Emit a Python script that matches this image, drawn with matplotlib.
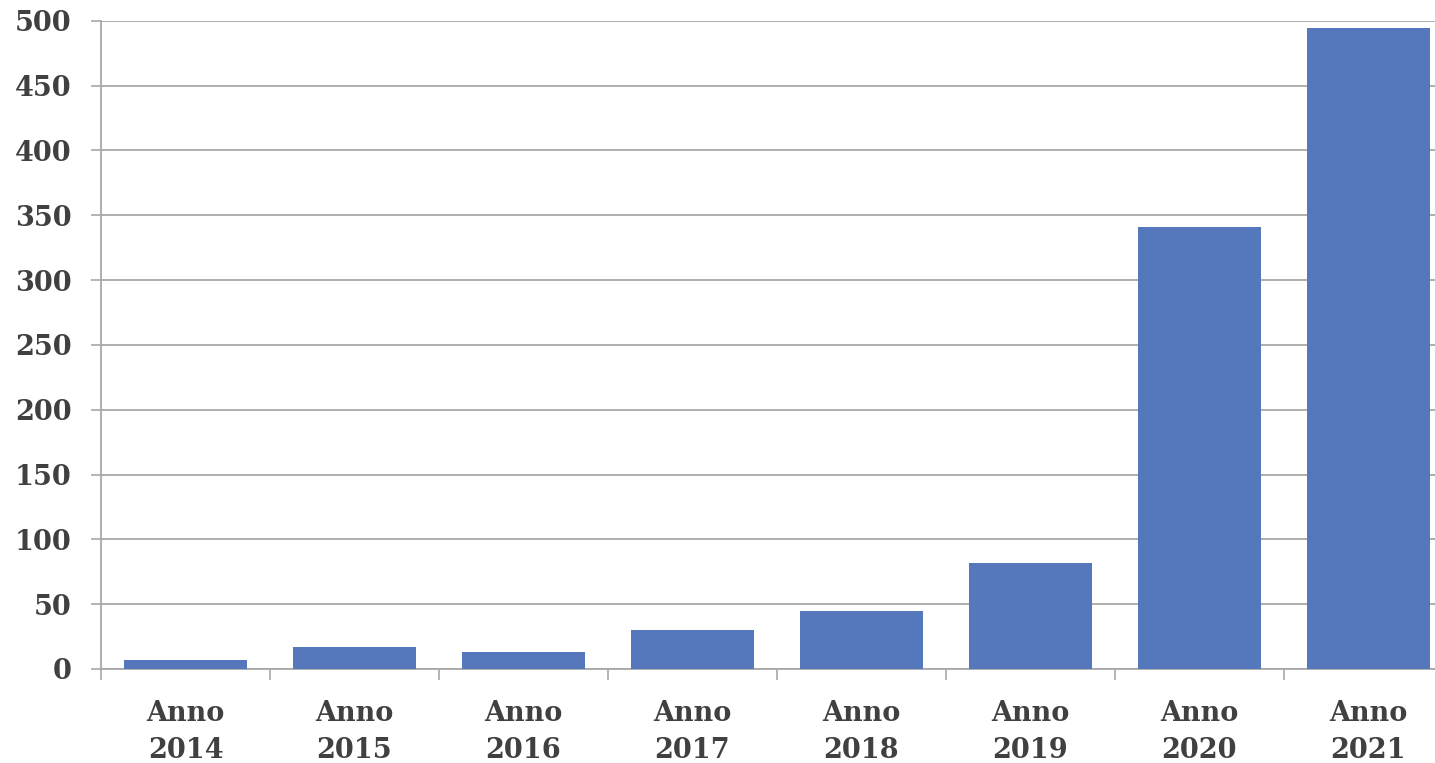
import matplotlib
matplotlib.use("Agg")
import matplotlib.pyplot as plt
import numpy as np

categories = ["Anno\n2014", "Anno\n2015", "Anno\n2016", "Anno\n2017",
              "Anno\n2018", "Anno\n2019", "Anno\n2020", "Anno\n2021"]
values = [7, 17, 13, 30, 45, 82, 341, 494]
yticks = [0, 50, 100, 150, 200, 250, 300, 350, 400, 450, 500]

fig = plt.figure(figsize=(14.35, 7.63), dpi=100)
ax = fig.add_axes([0.0704, 0.1232, 0.942, 0.8497])

x = np.arange(len(categories))
ax.bar(x, values, width=0.73, color="#5577bb", zorder=3)

ax.set_xlim(-0.5, len(categories) - 0.5)
ax.set_ylim(0, 500)
ax.set_yticks(yticks)
ax.yaxis.grid(True, color="#a8a8a8", linewidth=1.3, zorder=0)

for s in ["top", "right"]:
    ax.spines[s].set_visible(False)
ax.spines["left"].set_color("#a8a8a8")
ax.spines["left"].set_linewidth(1.3)
ax.spines["bottom"].set_color("#a8a8a8")
ax.spines["bottom"].set_linewidth(1.3)

font = dict(family="DejaVu Serif", weight="bold", size=19.5)
ax.set_xticks(x)
ax.set_xticklabels(categories, fontdict=font, color="#404040", linespacing=1.48)
ax.set_xticks(np.arange(-0.5, len(categories), 1.0), minor=True)
ax.tick_params(axis="x", which="major", length=0, pad=22)
ax.tick_params(axis="x", which="minor", length=8, width=1.2, color="#a8a8a8", direction="out")
ax.set_yticklabels([str(v) for v in yticks], fontdict=font, color="#404040")
ax.tick_params(axis="y", length=7, width=1.2, color="#a8a8a8", pad=14)

fig.savefig("out.png", dpi=100)
